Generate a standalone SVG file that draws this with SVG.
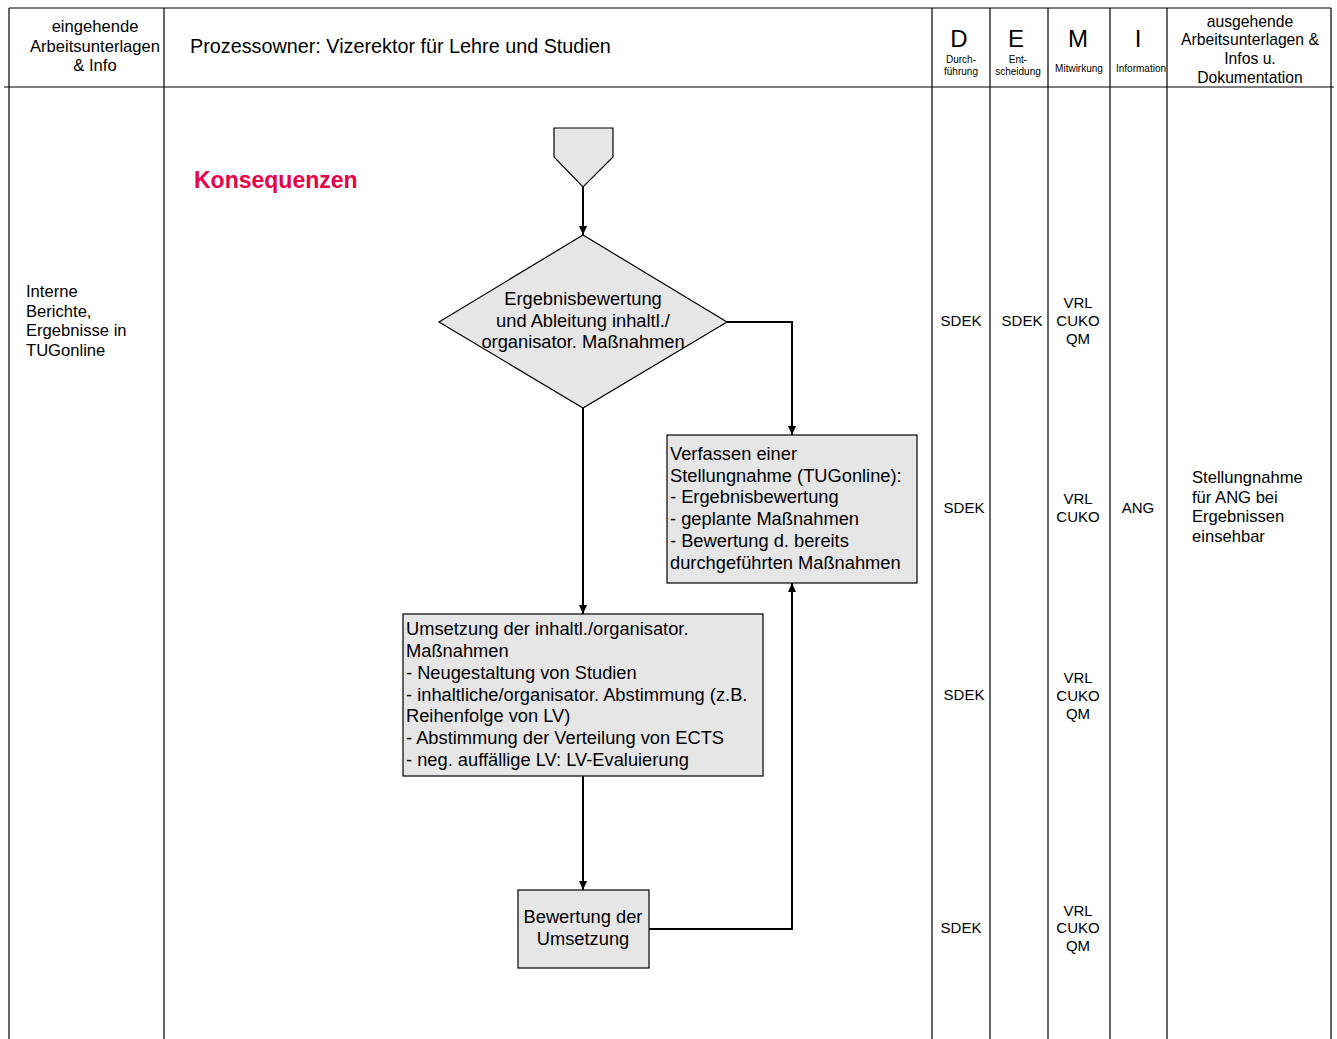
<svg xmlns="http://www.w3.org/2000/svg" width="1337" height="1039" viewBox="0 0 1337 1039">
<style>
text{font-family:"Liberation Sans",Arial,sans-serif;fill:#000}
.grid{stroke:#000;stroke-width:1.2;fill:none}
.node{fill:#e6e6e6;stroke:#000;stroke-width:1.2}
.conn{stroke:#000;stroke-width:2;fill:none}
.h{font-size:16.6px}
.l{font-size:16.6px}
.o{font-size:15.7px}
.m{font-size:15px}
.s{font-size:10px}
.b{font-size:18.3px}
.c{text-anchor:middle}
</style>
<defs>
<marker id="arr" markerWidth="10" markerHeight="10" refX="9" refY="5" orient="auto" markerUnits="userSpaceOnUse">
<path d="M0,1 L9,5 L0,9 Z" fill="#000"/>
</marker>
</defs>
<rect x="0" y="0" width="1337" height="1039" fill="#fff"/>
<g id="grid">
<line class="grid" x1="9" y1="8" x2="1331" y2="8"/>
<line class="grid" x1="4" y1="87" x2="1334" y2="87"/>
<line class="grid" x1="9" y1="8" x2="9" y2="1039"/>
<line class="grid" x1="164" y1="8" x2="164" y2="1039"/>
<line class="grid" x1="932" y1="8" x2="932" y2="1039"/>
<line class="grid" x1="990" y1="8" x2="990" y2="1039"/>
<line class="grid" x1="1048" y1="8" x2="1048" y2="1039"/>
<line class="grid" x1="1110" y1="8" x2="1110" y2="1039"/>
<line class="grid" x1="1167" y1="8" x2="1167" y2="1039"/>
<line class="grid" x1="1331" y1="8" x2="1331" y2="1039"/>
</g>
<g id="header">
<text class="h c" x="95" y="32">eingehende</text>
<text class="h c" x="95" y="52">Arbeitsunterlagen</text>
<text class="h c" x="95" y="71">&amp; Info</text>
<text x="190" y="53" font-size="19.8">Prozessowner: Vizerektor für Lehre und Studien</text>
<text class="c" x="959" y="47" font-size="24">D</text>
<text class="s c" x="961" y="63">Durch-</text>
<text class="s c" x="961" y="75">führung</text>
<text class="c" x="1016" y="47" font-size="24">E</text>
<text class="s c" x="1018" y="63">Ent-</text>
<text class="s c" x="1018" y="75">scheidung</text>
<text class="c" x="1078" y="47" font-size="24">M</text>
<text class="s c" x="1079" y="72">Mitwirkung</text>
<text class="c" x="1138" y="47" font-size="24">I</text>
<text class="s c" x="1141" y="72">Information</text>
<text class="o c" x="1250" y="27">ausgehende</text>
<text class="o c" x="1250" y="45">Arbeitsunterlagen &amp;</text>
<text class="o c" x="1250" y="64">Infos u.</text>
<text class="o c" x="1250" y="83">Dokumentation</text>
</g>
<g id="inputs">
<text class="l" x="26" y="297">Interne</text>
<text class="l" x="26" y="317">Berichte,</text>
<text class="l" x="26" y="336">Ergebnisse in</text>
<text class="l" x="26" y="356">TUGonline</text>
</g>
<text x="194" y="188" font-size="23" font-weight="bold" style="fill:#e8004a">Konsequenzen</text>
<g id="connectors">
<line class="conn" x1="583" y1="187" x2="583" y2="235" marker-end="url(#arr)"/>
<polyline class="conn" points="727,322 792,322 792,435" marker-end="url(#arr)"/>
<line class="conn" x1="583" y1="408" x2="583" y2="614" marker-end="url(#arr)"/>
<line class="conn" x1="583" y1="776" x2="583" y2="890" marker-end="url(#arr)"/>
<polyline class="conn" points="649,929 792,929 792,583" marker-end="url(#arr)"/>
</g>
<g id="start">
<polygon class="node" points="554,128 613,128 613,157 583,187 554,157"/>
</g>
<g id="decision">
<polygon class="node" points="583,235 727,322 583,408 439,322"/>
<text class="b c" x="583" y="305">Ergebnisbewertung</text>
<text class="b c" x="583" y="327">und Ableitung inhaltl./</text>
<text class="b c" x="583" y="348">organisator. Maßnahmen</text>
</g>
<g id="stellungnahme">
<rect class="node" x="667" y="435" width="250" height="148"/>
<text class="b" x="670" y="460">Verfassen einer</text>
<text class="b" x="670" y="482">Stellungnahme (TUGonline):</text>
<text class="b" x="670" y="503">- Ergebnisbewertung</text>
<text class="b" x="670" y="525">- geplante Maßnahmen</text>
<text class="b" x="670" y="547">- Bewertung d. bereits</text>
<text class="b" x="670" y="569">durchgeführten Maßnahmen</text>
</g>
<g id="umsetzung">
<rect class="node" x="403" y="614" width="360" height="162"/>
<text class="b" x="406" y="635">Umsetzung der inhaltl./organisator.</text>
<text class="b" x="406" y="657">Maßnahmen</text>
<text class="b" x="406" y="679">- Neugestaltung von Studien</text>
<text class="b" x="406" y="701">- inhaltliche/organisator. Abstimmung (z.B.</text>
<text class="b" x="406" y="722">Reihenfolge von LV)</text>
<text class="b" x="406" y="744">- Abstimmung der Verteilung von ECTS</text>
<text class="b" x="406" y="766">- neg. auffällige LV: LV-Evaluierung</text>
</g>
<g id="bewertung">
<rect class="node" x="518" y="890" width="131" height="78"/>
<text class="b c" x="583" y="923">Bewertung der</text>
<text class="b c" x="583" y="945">Umsetzung</text>
</g>
<g id="roles">
<text class="m c" x="961" y="326">SDEK</text>
<text class="m c" x="1022" y="326">SDEK</text>
<text class="m c" x="1078" y="308">VRL</text>
<text class="m c" x="1078" y="326">CUKO</text>
<text class="m c" x="1078" y="344">QM</text>
<text class="m c" x="964" y="513">SDEK</text>
<text class="m c" x="1078" y="504">VRL</text>
<text class="m c" x="1078" y="522">CUKO</text>
<text class="m c" x="1138" y="513">ANG</text>
<text class="l" x="1192" y="483">Stellungnahme</text>
<text class="l" x="1192" y="503">für ANG bei</text>
<text class="l" x="1192" y="522">Ergebnissen</text>
<text class="l" x="1192" y="542">einsehbar</text>
<text class="m c" x="964" y="700">SDEK</text>
<text class="m c" x="1078" y="683">VRL</text>
<text class="m c" x="1078" y="701">CUKO</text>
<text class="m c" x="1078" y="719">QM</text>
<text class="m c" x="961" y="933">SDEK</text>
<text class="m c" x="1078" y="916">VRL</text>
<text class="m c" x="1078" y="933">CUKO</text>
<text class="m c" x="1078" y="951">QM</text>
</g>
</svg>
